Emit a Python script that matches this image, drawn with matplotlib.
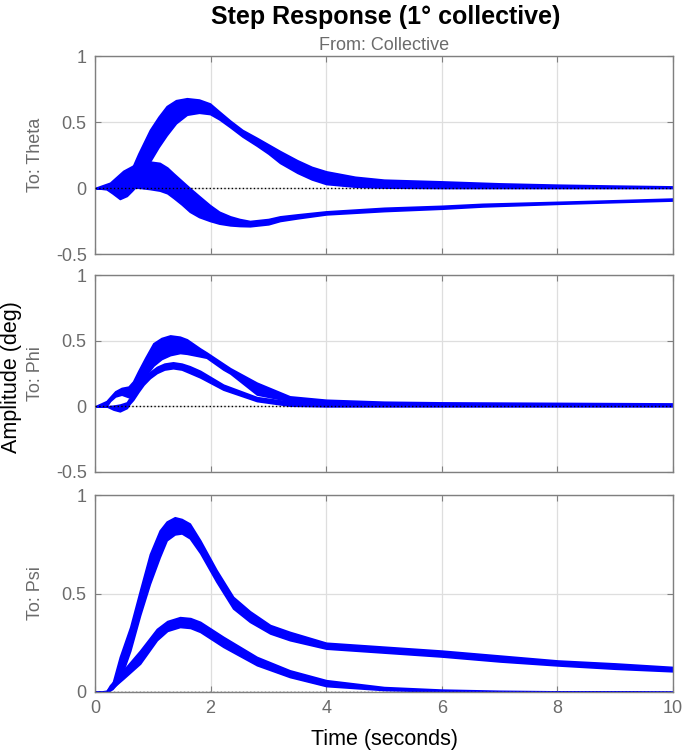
import numpy as np
import matplotlib
matplotlib.use('Agg')
import matplotlib.pyplot as plt

plt.rcParams['font.family'] = ['Liberation Sans', 'DejaVu Sans']

# ---- To: Theta ----
t_theta_a = [0, 0.2, 0.3, 0.43, 0.55, 0.63, 0.75, 0.95, 1.1, 1.24, 1.4, 1.59, 1.8,
             1.99, 2.15, 2.34, 2.55, 2.8, 3.0, 3.2, 3.5, 3.75, 4, 4.5, 5, 6, 7, 8, 9, 10]
theta_a_hi = [0, -0.005, -0.01, 0.0, 0.06, 0.14, 0.26, 0.44, 0.54, 0.62, 0.665, 0.68, 0.67,
              0.64, 0.58, 0.51, 0.44, 0.38, 0.33, 0.28, 0.21, 0.16, 0.126, 0.085, 0.063,
              0.05, 0.035, 0.025, 0.018, 0.012]
theta_a_lo = [0, -0.01, -0.04, -0.083, -0.06, -0.025, 0.03, 0.2, 0.31, 0.40, 0.49, 0.555,
              0.57, 0.56, 0.52, 0.46, 0.39, 0.32, 0.26, 0.19, 0.115, 0.065, 0.03, 0.01, 0.003,
              0.0, 0.0, 0.0, 0.0, 0.0]

t_theta_b = [0, 0.26, 0.49, 0.66, 0.8, 0.95, 1.12, 1.25, 1.36, 1.5, 1.64, 1.8, 1.99, 2.15,
             2.34, 2.5, 2.68, 3.0, 3.2, 3.5, 4, 5, 6, 6.7, 8, 9, 10]
theta_b_hi = [0, 0.04, 0.13, 0.17, 0.19, 0.2, 0.19, 0.155, 0.11, 0.055, 0.0, -0.06, -0.13,
              -0.18, -0.215, -0.235, -0.25, -0.235, -0.215, -0.2, -0.177, -0.15, -0.135,
              -0.12, -0.105, -0.093, -0.08]
theta_b_lo = [0, 0.0, 0.01, 0.005, 0.0, -0.008, -0.02, -0.04, -0.076, -0.125, -0.18, -0.22,
              -0.25, -0.27, -0.283, -0.288, -0.29, -0.275, -0.25, -0.23, -0.2, -0.175,
              -0.157, -0.14, -0.12, -0.107, -0.095]

# ---- To: Phi ----
t_phi_a = [0, 0.2, 0.26, 0.35, 0.46, 0.58, 0.66, 0.75, 0.87, 1.01, 1.15, 1.3, 1.47, 1.59,
           1.82, 1.93, 2.22, 2.34, 2.8, 3.37, 4, 5, 6, 8, 10]
phi_a_hi = [0, 0.04, 0.07, 0.114, 0.14, 0.15, 0.19, 0.27, 0.37, 0.48, 0.52, 0.54, 0.53,
            0.51, 0.44, 0.41, 0.325, 0.29, 0.18, 0.076, 0.05, 0.035, 0.03, 0.026, 0.022]
phi_a_lo = [0, 0.0, 0.04, 0.075, 0.089, 0.07, 0.1, 0.16, 0.23, 0.31, 0.36, 0.39, 0.406,
            0.4, 0.38, 0.37, 0.28, 0.25, 0.09, 0.04, 0.02, 0.015, 0.013, 0.012, 0.012]

t_phi_b = [0, 0.2, 0.32, 0.43, 0.55, 0.6, 0.66, 0.75, 0.84, 0.95, 1.07, 1.2, 1.35, 1.5,
           1.64, 1.82, 2.22, 2.8, 3.37, 4, 5, 6, 8, 10]
phi_b_hi = [0, 0.0, 0.005, 0.013, 0.03, 0.064, 0.1, 0.15, 0.21, 0.26, 0.30, 0.325, 0.335,
            0.325, 0.305, 0.27, 0.165, 0.07, 0.035, 0.02, 0.012, 0.01, 0.008, 0.008]
phi_b_lo = [0, 0.0, -0.025, -0.038, -0.013, 0.02, 0.05, 0.11, 0.165, 0.215, 0.254, 0.28,
            0.29, 0.28, 0.254, 0.22, 0.127, 0.04, 0.005, 0.0, 0.0, 0.0, 0.0, 0.0]

# ---- To: Psi ----
t_psi_a = [0, 0.2, 0.3, 0.43, 0.61, 0.78, 0.95, 1.12, 1.24, 1.38, 1.5, 1.64, 1.82, 2.1,
           2.39, 2.68, 3.03, 3.37, 4, 5, 6, 7, 8, 9, 10]
psi_a_hi = [0, 0.005, 0.04, 0.178, 0.33, 0.517, 0.70, 0.82, 0.865, 0.887, 0.878, 0.855,
            0.77, 0.62, 0.483, 0.41, 0.34, 0.305, 0.25, 0.23, 0.21, 0.185, 0.16, 0.145, 0.127]
psi_a_lo = [0, 0.0, 0.015, 0.06, 0.21, 0.39, 0.55, 0.685, 0.77, 0.80, 0.805, 0.78, 0.705,
            0.56, 0.424, 0.356, 0.297, 0.263, 0.22, 0.2, 0.18, 0.155, 0.135, 0.118, 0.105]

t_psi_b = [0, 0.2, 0.26, 0.49, 0.78, 1.07, 1.25, 1.47, 1.65, 1.82, 2.22, 2.8, 3.37, 4, 5,
           6, 7, 8, 10]
psi_b_hi = [0, 0.005, 0.034, 0.11, 0.21, 0.32, 0.36, 0.38, 0.375, 0.356, 0.28, 0.178,
            0.11, 0.06, 0.025, 0.012, 0.006, 0.003, 0.001]
psi_b_lo = [0, 0.0, 0.01, 0.068, 0.144, 0.263, 0.31, 0.33, 0.325, 0.305, 0.229, 0.136,
            0.076, 0.03, 0.01, 0.003, 0.0, 0.0, 0.0]

panels = [
    ('To: Theta', [(t_theta_a, theta_a_lo, theta_a_hi), (t_theta_b, theta_b_lo, theta_b_hi)],
     (-0.5, 1), [-0.5, 0, 0.5, 1]),
    ('To: Phi', [(t_phi_a, phi_a_lo, phi_a_hi), (t_phi_b, phi_b_lo, phi_b_hi)],
     (-0.5, 1), [-0.5, 0, 0.5, 1]),
    ('To: Psi', [(t_psi_a, psi_a_lo, psi_a_hi), (t_psi_b, psi_b_lo, psi_b_hi)],
     (0, 1), [0, 0.5, 1]),
]

W, H = 685, 756
fig = plt.figure(figsize=(W / 100, H / 100), dpi=100)

edge = '#7f7f7f'
txt = '#6b6b6b'
# (top px, bottom px) of each axes box
boxes = [(56, 254), (275, 472), (495, 692)]
left, right = 95, 673

for i, (name, bands, ylim, yticks) in enumerate(panels):
    top, bot = boxes[i]
    ax = fig.add_axes([left / W, 1 - bot / H, (right - left) / W, (bot - top) / H])
    for t, lo, hi in bands:
        ax.fill_between(t, lo, hi, color='#0000ff', lw=1.2, edgecolor='#0000ff')
    ax.axhline(0, color='black', ls=':', lw=1.0, zorder=3)
    ax.set_xlim(0, 10)
    ax.set_ylim(*ylim)
    ax.set_yticks(yticks)
    ax.set_yticklabels([f'{v:g}' for v in yticks])
    ax.set_xticks([0, 2, 4, 6, 8, 10])
    ax.grid(True, color='#dedede', lw=0.9)
    ax.set_axisbelow(True)
    ax.tick_params(direction='in', length=4, colors=edge, labelcolor=txt,
                   labelsize=13, top=True, right=True, pad=6)
    if i < 2:
        ax.tick_params(labelbottom=False)
    for s in ax.spines.values():
        s.set_color(edge)
        s.set_linewidth(1.0)
    fig.text(35 / W, 1 - (top + bot) / 2 / H, name, rotation=90, ha='center',
             va='center', color=txt, fontsize=13)

fig.text(386 / W, 1 - 17 / H, 'Step Response (1° collective)', ha='center',
         va='center', fontsize=18, fontweight='bold')
fig.text(384 / W, 1 - 45 / H, 'From: Collective', ha='center', va='center',
         fontsize=13, color=txt)
fig.text(12 / W, 1 - 377 / H, 'Amplitude (deg)', rotation=90, ha='center',
         va='center', fontsize=15.5)
fig.text(384 / W, 1 - 740 / H, 'Time (seconds)', ha='center', va='center',
         fontsize=15.5)

fig.savefig('out.png', dpi=100)
